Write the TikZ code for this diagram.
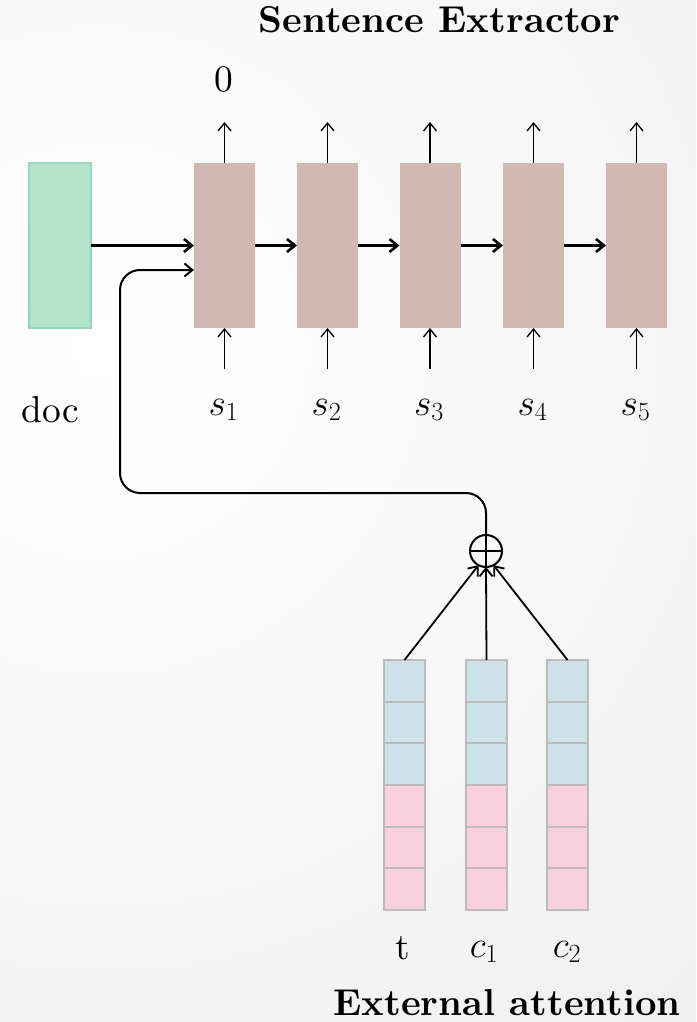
\RequirePackage{fix-cm}
\documentclass[tikz,border=0pt]{standalone}
\usepackage{fontspec}
\setmainfont{lmroman10-regular.otf}[BoldFont=lmroman10-bold.otf]
\usetikzlibrary{arrows.meta}
\definecolor{bgc}{HTML}{DDDDDD}
\definecolor{docfill}{HTML}{B2E3CB}
\definecolor{docline}{HTML}{98D8B8}
\definecolor{sfill}{HTML}{D1B8B0}
\definecolor{bluefill}{HTML}{CDE1E8}
\definecolor{pinkfill}{HTML}{F9D0DD}
\definecolor{cellline}{HTML}{BBBBBB}
\newcommand\normsz{\fontsize{37.4}{44}\selectfont}
\newcommand\titsz{\fontsize{37.4}{44}\selectfont\bfseries}
\begin{document}
\begin{tikzpicture}[x=1pt,y=-1pt,
  arr/.style={-{Straight Barb[length=8pt,width=13pt]}},
  sbox/.style={fill=sfill, draw=none, minimum width=61pt, minimum height=165pt, inner sep=0pt, outer sep=0pt},
  docbox/.style={fill=docfill, draw=docline, line width=1.2pt, minimum width=62pt, minimum height=165pt, inner sep=0pt, outer sep=0pt},
  bcell/.style={fill=bluefill, draw=cellline, line width=1.8pt, minimum width=41pt, minimum height=41.67pt, inner sep=0pt, outer sep=0pt},
  pcell/.style={fill=pinkfill, draw=cellline, line width=1.8pt, minimum width=41pt, minimum height=41.67pt, inner sep=0pt, outer sep=0pt},
  lbl/.style={anchor=base, font=\normsz, inner sep=0pt},
  ttl/.style={anchor=base, font=\titsz, inner sep=0pt}]
\useasboundingbox (0,0) rectangle (696,1022);
\begin{scope}
  \clip (0,0) rectangle (696,1022);
  \shade[inner color=white, outer color=bgc] (100,350) circle [radius=2000pt];
\end{scope}

% titles
\node[ttl] (title1) at (439.5,33) {Sentence Extractor};
\node[ttl] (title2) at (507,1015) {External attention};

% doc box
\node[docbox] (doc) at (60,245.5) {};
\node[lbl] (ldoc) at (50.4,422.5) {doc};

% sentence boxes
\foreach \i/\x in {1/224.5,2/327.5,3/430,4/533.5,5/636.5}{
  \node[sbox] (s\i) at (\x,245.5) {};
  \coordinate (o\i) at (\x,122);
  \coordinate (in\i) at (\x,369);
  \draw[arr, line width=1.3pt] (s\i.north) -- (o\i);
  \draw[arr, line width=1.3pt] (in\i) -- (s\i.south);
  \node[lbl] (ls\i) at (\x-1,415) {$s_{\i}$};
}
\node[lbl] (zero) at (224,92) {0};

% horizontal arrows
\draw[arr, line width=2.6pt] (doc.east) -- (s1.west);
\foreach \a/\b in {1/2,2/3,3/4,4/5}{
  \draw[arr, line width=2.6pt] (s\a.east) -- (s\b.west);
}

% stacks
\foreach \n/\x in {t/404.5,ca/486.5,cb/567.5}{
  \foreach \k in {1,2,3}{
    \node[bcell] (\n\k) at (\x,{660+20.83+41.67*(\k-1)}) {};
  }
  \foreach \k in {4,5,6}{
    \node[pcell] (\n\k) at (\x,{660+20.83+41.67*(\k-1)}) {};
  }
}
\node[lbl] (lt) at (403,959) {t};
\node[lbl] (lca) at (484,957) {$c_1$};
\node[lbl] (lcb) at (567,957) {$c_2$};

% oplus
\node[circle, draw, line width=2pt, minimum size=32pt, inner sep=0pt, outer sep=0pt] (op) at (486,551) {};
\draw[line width=2pt] (op.north) -- (op.south);
\draw[line width=2pt] (op.west) -- (op.east);

\draw[arr, line width=1.8pt] (t1.north) -- (op.-118);
\draw[arr, line width=1.8pt] (ca1.north) -- (op.south);
\draw[arr, line width=1.8pt] (cb1.north) -- (op.-62);

% return path
\coordinate (r1) at (486,493);
\coordinate (r2) at (120,493);
\coordinate (r3) at (120,270);
\draw[arr, line width=2pt, rounded corners=20pt] (op.north) -- (r1) -- (r2) -- (r3) -- (r3 -| s1.west);
\end{tikzpicture}
\end{document}
